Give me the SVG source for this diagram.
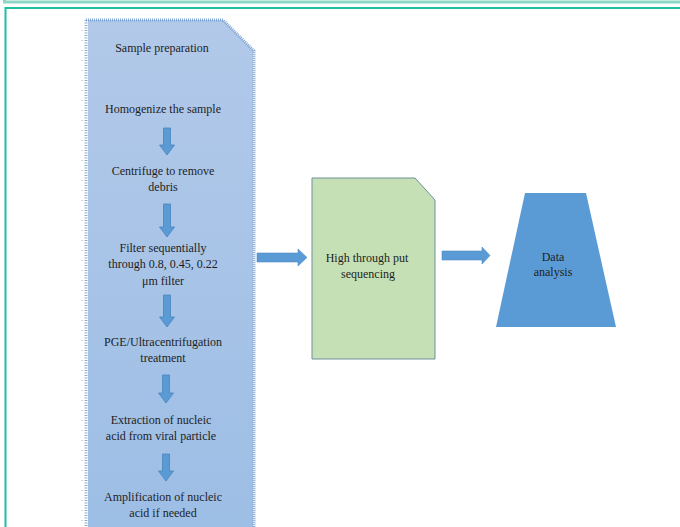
<svg xmlns="http://www.w3.org/2000/svg" width="680" height="527" viewBox="0 0 680 527">
<style>
.t{font-family:"Liberation Serif","Times New Roman",serif;font-size:12px;fill:#1e1e1e;text-anchor:middle}
.da{fill:#5b9bd5;stroke:#4a84bc;stroke-width:0.8}
.ha{fill:#5b9bd5;stroke:#4f8cc6;stroke-width:0.6}
</style>
<defs>
<linearGradient id="gb" x1="0" y1="0" x2="0" y2="1">
<stop offset="0" stop-color="#b2c9e9"/>
<stop offset="1" stop-color="#9dbee5"/>
</linearGradient>
</defs>
<rect width="680" height="527" fill="#ffffff"/>
<g id="frame">
<path d="M4.5 0 V2 H680" fill="none" stroke="#8fd6c6" stroke-width="3"/>
<path d="M5.5 527 V8 H680" fill="none" stroke="#1fbf9f" stroke-width="2"/>
</g>
<g id="sample-preparation">
<path d="M88 20 H223 L253 50 V527 H88 Z" fill="url(#gb)"/>
<path d="M86 20 H223 L254 51 V527" fill="none" stroke="#7fa3d2" stroke-width="3" stroke-dasharray="1 1"/>
<path d="M86 20 V527" fill="none" stroke="#8ea9cc" stroke-width="3" stroke-dasharray="1 1.5"/>
<path d="M82 30 V527" fill="none" stroke="#a0b0c4" stroke-width="1" stroke-dasharray="1 9"/>
<text class="t" x="162" y="52">Sample preparation</text>
<text class="t" x="163" y="113">Homogenize the sample</text>
<text class="t" x="163" y="175">Centrifuge to remove</text>
<text class="t" x="163" y="191">debris</text>
<text class="t" x="163" y="252">Filter sequentially</text>
<text class="t" x="163" y="268">through 0.8, 0.45, 0.22</text>
<text class="t" x="163" y="285">μm filter</text>
<text class="t" x="163" y="346">PGE/Ultracentrifugation</text>
<text class="t" x="163" y="362">treatment</text>
<text class="t" x="161" y="424">Extraction of nucleic</text>
<text class="t" x="161" y="440">acid from viral particle</text>
<text class="t" x="163" y="501">Amplification of nucleic</text>
<text class="t" x="163" y="517">acid if needed</text>
</g>
<g id="sequencing">
<path d="M312 178 H415 L435 200 V359 H312 Z" fill="#c5e0b4" stroke="#6f8f9c" stroke-width="1"/>
<text class="t" x="367" y="262">High through put</text>
<text class="t" x="368" y="278">sequencing</text>
</g>
<g id="data-analysis">
<path d="M525 193 H586 L616 327 H496 Z" fill="#5b9bd5"/>
<text class="t" x="553" y="261">Data</text>
<text class="t" x="553" y="276">analysis</text>
</g>
<g id="connectors">
<path class="da" d="M163.5 128 H170.5 V145 H174.5 L167 155 L159.5 145 H163.5 Z"/>
<path class="da" d="M163.5 204 H170.5 V227 H174.5 L167 237 L159.5 227 H163.5 Z"/>
<path class="da" d="M163.5 295 H170.5 V317 H174.5 L167 327 L159.5 317 H163.5 Z"/>
<path class="da" d="M162.5 375 H169.5 V393 H173.5 L166 403 L158.5 393 H162.5 Z"/>
<path class="da" d="M162.5 454 H169.5 V471 H173.5 L166 481 L158.5 471 H162.5 Z"/>
<path class="ha" d="M257 253 H298 V249 L307 257.5 L298 266 V262 H257 Z"/>
<path class="ha" d="M442 251 H482 V247 L490 255.5 L482 264 V260 H442 Z"/>
</g>
</svg>
